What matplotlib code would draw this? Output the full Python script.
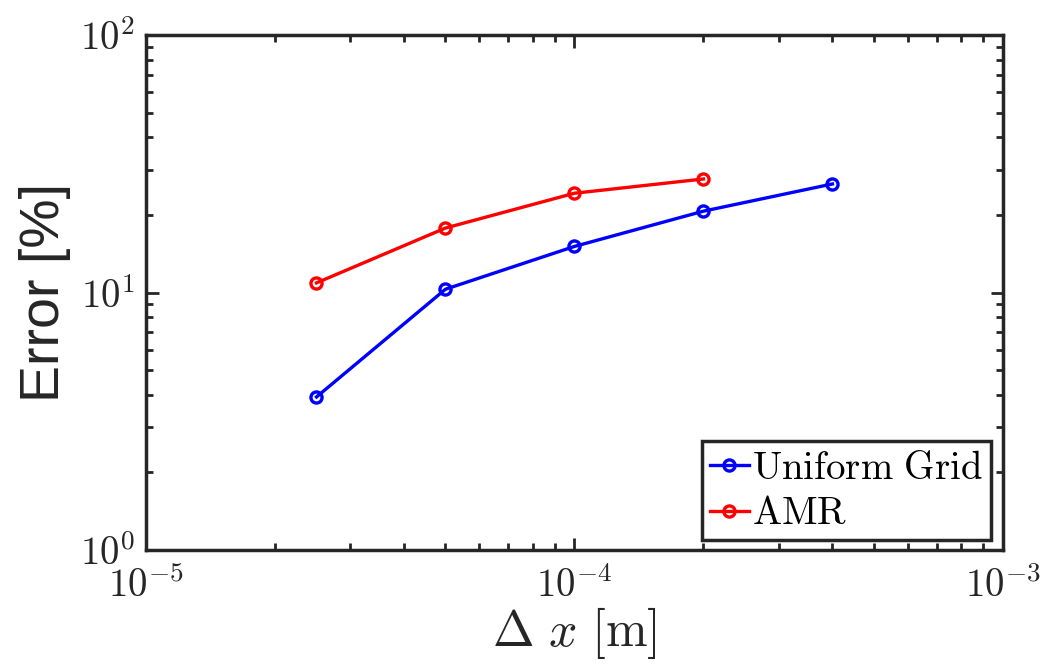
import numpy as np
import matplotlib.pyplot as plt

plt.rcParams['mathtext.fontset'] = 'cm'

# data
dx_uniform = [2.5e-5, 5e-5, 1e-4, 2e-4, 4e-4]
err_uniform = [3.93, 10.3, 15.1, 20.7, 26.4]
dx_amr = [2.5e-5, 5e-5, 1e-4, 2e-4]
err_amr = [10.9, 17.8, 24.3, 27.6]

fig = plt.figure(figsize=(10.51, 6.66), dpi=100)
ax = fig.add_axes([0.1389, 0.1742, 0.8154, 0.7732])

ax.loglog(dx_uniform, err_uniform, '-o', color='#0000ff', lw=2.4,
          ms=8, mfc='none', mew=2.4, label=r'$\mathrm{Uniform\ Grid}$')
ax.loglog(dx_amr, err_amr, '-o', color='#ff0000', lw=2.4,
          ms=8, mfc='none', mew=2.4, label=r'$\mathrm{AMR}$')

ax.set_xlim(1e-5, 1e-3)
ax.set_ylim(1, 100)
ax.set_xticks([1e-5, 1e-4, 1e-3])
ax.set_yticks([1, 10, 100])
ax.set_xticklabels([r'$10^{-5}$', r'$10^{-4}$', r'$10^{-3}$'])
ax.set_yticklabels([r'$10^{0}$', r'$10^{1}$', r'$10^{2}$'])
ax.tick_params(which='both', direction='in', top=True, right=True,
               labelsize=28, color='#262626', labelcolor='#262626', width=2)
ax.tick_params(which='major', length=9)
ax.tick_params(which='minor', length=5)
ax.tick_params(axis='x', which='major', pad=12)
ax.tick_params(axis='y', which='major', pad=8)
for s in ax.spines.values():
    s.set_linewidth(2.5)
    s.set_color('#262626')

ax.set_xlabel(r'$\Delta\ x\ \mathrm{[m]}$', fontsize=36, labelpad=0,
              color='#262626')
ax.set_ylabel('Error [%]', fontsize=40, family='Liberation Sans', labelpad=6,
              color='#262626')

leg = ax.legend(loc='lower right', fontsize=28, handlelength=1.0,
                handletextpad=0.1, borderpad=0.2, labelspacing=0.2,
                borderaxespad=0, fancybox=False, framealpha=1,
                edgecolor='#262626', bbox_to_anchor=(0.986, 0.019))
leg.get_frame().set_linewidth(2.5)

fig.savefig('out.png', dpi=100)
